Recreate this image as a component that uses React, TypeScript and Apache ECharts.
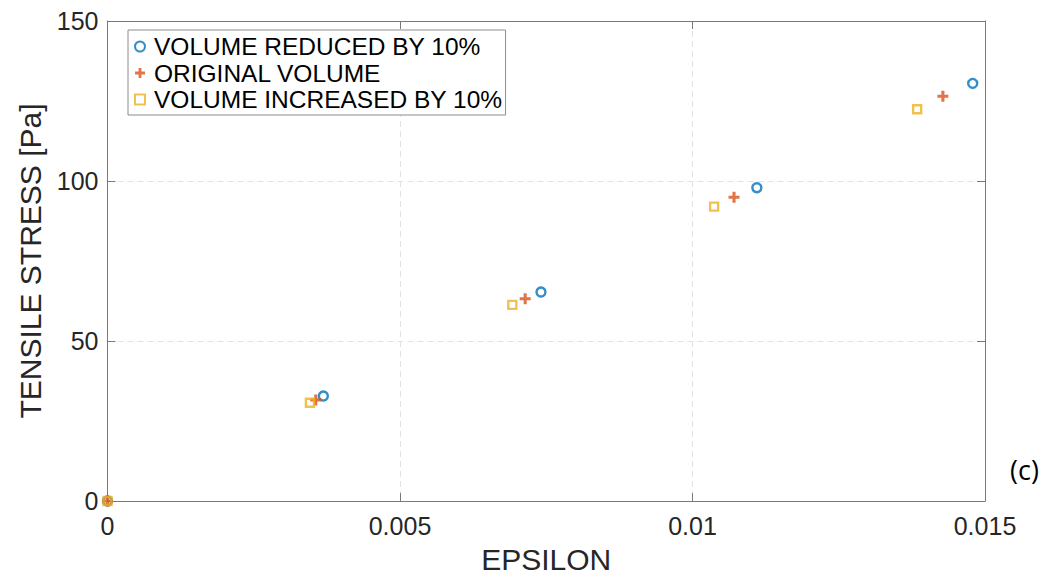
import React, { useEffect, useRef } from "react";
import * as echarts from "echarts";

const seriesNames = ["VOLUME REDUCED BY 10%", "ORIGINAL VOLUME", "VOLUME INCREASED BY 10%"];

const reducedX = [0, 0.00369, 0.00741, 0.0111, 0.01479];
const reducedY = [0, 32.8, 65.3, 97.9, 130.5];

const originalX = [0, 0.00356, 0.00714, 0.01071, 0.01428];
const originalY = [0, 31.6, 63.2, 94.9, 126.5];

const increasedX = [0, 0.00346, 0.00692, 0.01037, 0.01384];
const increasedY = [0, 30.7, 61.3, 92.0, 122.4];

const xTicks = { min: 0, max: 0.015, interval: 0.005 };
const yTicks = { min: 0, max: 150, interval: 50 };

const xTitle = "EPSILON";
const yTitle = "TENSILE STRESS [Pa]";
const panelLabel = "(c)";

const FONT = "'Liberation Sans', Arial, Helvetica, sans-serif";
const AXIS_COLOR = "#7a7a7a";
const LABEL_COLOR = "#262626";
const PLUS = "path://M0,3.6H3.6V0H6.4V3.6H10V6.4H6.4V10H3.6V6.4H0Z";

const zip = (xs: number[], ys: number[]) => xs.map((x, i) => [x, ys[i]]);

export default function App() {
  const ref = useRef<HTMLDivElement>(null);

  useEffect(() => {
    if (!ref.current) return;
    const chart = echarts.init(ref.current, undefined, { renderer: "svg" });

    const baseAxis = {
      axisLine: { show: true, onZero: false, lineStyle: { color: AXIS_COLOR, width: 1 } },
      axisTick: { show: true, inside: true, length: 8, lineStyle: { color: AXIS_COLOR, width: 1 } },
    };

    chart.setOption({
      animation: false,
      backgroundColor: "#ffffff",
      textStyle: { fontFamily: FONT },
      grid: { left: 107.5, right: 69, top: 21, bottom: 73.5, containLabel: false },
      legend: {
        orient: "vertical",
        left: 128,
        top: 30,
        padding: [4, 3, 3, 6],
        backgroundColor: "#ffffff",
        borderColor: "#8c8c8c",
        borderWidth: 1,
        borderRadius: 0,
        itemWidth: 10,
        itemHeight: 10,
        itemGap: 1.5,
        symbolKeepAspect: true,
        textStyle: {
          fontFamily: FONT,
          fontSize: 24.5,
          color: "#000000",
          lineHeight: 23,
          padding: [0, 0, 0, 4],
        },
        data: seriesNames,
      },
      xAxis: [
        {
          ...baseAxis,
          type: "value",
          position: "bottom",
          min: xTicks.min,
          max: xTicks.max,
          interval: xTicks.interval,
          name: xTitle,
          nameLocation: "middle",
          nameGap: 43,
          nameTextStyle: { fontFamily: FONT, fontSize: 30, color: LABEL_COLOR },
          axisLabel: {
            fontFamily: FONT,
            fontSize: 25,
            color: LABEL_COLOR,
            margin: 12,
            formatter: (v: number) => String(+v.toFixed(4)),
          },
          splitLine: { show: true, lineStyle: { color: "#e3e3e3", type: [6, 4], width: 1 } },
        },
        {
          ...baseAxis,
          type: "value",
          position: "top",
          min: xTicks.min,
          max: xTicks.max,
          interval: xTicks.interval,
          axisLabel: { show: false },
          splitLine: { show: false },
        },
      ],
      yAxis: [
        {
          ...baseAxis,
          type: "value",
          position: "left",
          min: yTicks.min,
          max: yTicks.max,
          interval: yTicks.interval,
          name: yTitle,
          nameLocation: "middle",
          nameGap: 53,
          nameTextStyle: { fontFamily: FONT, fontSize: 30, color: LABEL_COLOR },
          axisLabel: { fontFamily: FONT, fontSize: 25, color: LABEL_COLOR, margin: 9 },
          splitLine: { show: true, lineStyle: { color: "#e3e3e3", type: [6, 4], width: 1 } },
        },
        {
          ...baseAxis,
          type: "value",
          position: "right",
          min: yTicks.min,
          max: yTicks.max,
          interval: yTicks.interval,
          axisLabel: { show: false },
          splitLine: { show: false },
        },
      ],
      graphic: [
        {
          type: "text",
          left: 1010,
          top: 456,
          style: {
            text: panelLabel,
            fontFamily: "'Open Sans', 'Noto Sans', sans-serif",
            fontSize: 27,
            fill: "#000000",
          },
        },
      ],
      series: [
        {
          name: seriesNames[0],
          type: "scatter",
          xAxisIndex: 0,
          yAxisIndex: 0,
          symbol: "circle",
          symbolSize: 9,
          itemStyle: { color: "rgba(255,255,255,0)", borderColor: "#0072BD", borderWidth: 2.4 },
          data: zip(reducedX, reducedY),
        },
        {
          name: seriesNames[1],
          type: "scatter",
          xAxisIndex: 0,
          yAxisIndex: 0,
          symbol: PLUS,
          symbolSize: 11,
          itemStyle: { color: "#D95319" },
          data: zip(originalX, originalY),
        },
        {
          name: seriesNames[2],
          type: "scatter",
          xAxisIndex: 0,
          yAxisIndex: 0,
          symbol: "rect",
          symbolSize: 8,
          itemStyle: { color: "rgba(255,255,255,0)", borderColor: "#EDB120", borderWidth: 2.4 },
          data: zip(increasedX, increasedY),
        },
      ],
    });

    return () => chart.dispose();
  }, []);

  return (
    <div
      ref={ref}
      style={{ position: "absolute", left: 0, top: 0, width: 1054, height: 579 }}
    />
  );
}
